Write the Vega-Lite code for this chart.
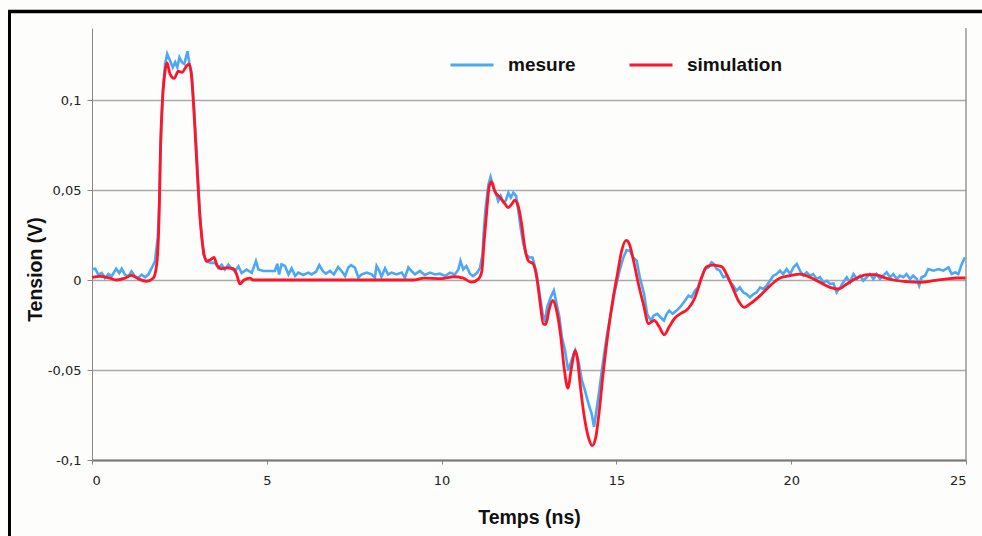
{
  "$schema": "https://vega.github.io/schema/vega-lite/v6.json",
  "autosize": {"type": "none"},
  "width": 874,
  "height": 432,
  "padding": {"left": 92, "top": 28, "right": 16, "bottom": 76},
  "background": "#fdfdfb",
  "config": {
    "view": {"stroke": null},
    "axis": {"labelFont": "DejaVu Sans", "labelFontSize": 13, "labelColor": "#222", "titleFont": "Liberation Sans", "titleFontSize": 19.5, "titleFontWeight": "bold", "titleColor": "#111", "domainColor": "#888", "tickColor": "#888"},
    "legend": {"labelFont": "Liberation Sans", "labelFontSize": 19, "labelFontWeight": "bold", "labelColor": "#111"}
  },
  "datasets": {
    "mesure": [
      {"t":0,"v":0.006},{"t":0.09,"v":0.0063},{"t":0.18,"v":0.003},{"t":0.28,"v":0.0039},{"t":0.37,"v":0.0011},{"t":0.47,"v":0.0033},{"t":0.56,"v":0.002},{"t":0.69,"v":0.0063},{"t":0.78,"v":0.0039},{"t":0.85,"v":0.0063},{"t":0.94,"v":0.003},{"t":1.04,"v":0.002},{"t":1.13,"v":0.0048},{"t":1.23,"v":0.002},{"t":1.32,"v":0.0011},{"t":1.42,"v":0.003},{"t":1.52,"v":0.0015},{"t":1.61,"v":0.003},{"t":1.71,"v":0.0067},{"t":1.8,"v":0.0104},{"t":1.88,"v":0.0234},{"t":1.93,"v":0.0457},{"t":1.96,"v":0.0736},{"t":2.02,"v":0.1033},{"t":2.09,"v":0.12},{"t":2.15,"v":0.1256},{"t":2.23,"v":0.1219},{"t":2.31,"v":0.1182},{"t":2.38,"v":0.121},{"t":2.44,"v":0.1182},{"t":2.5,"v":0.1237},{"t":2.57,"v":0.121},{"t":2.64,"v":0.12},{"t":2.73,"v":0.1271},{"t":2.78,"v":0.121},{"t":2.85,"v":0.1145},{"t":2.92,"v":0.0959},{"t":3.0,"v":0.068},{"t":3.09,"v":0.0346},{"t":3.19,"v":0.0141},{"t":3.28,"v":0.0104},{"t":3.39,"v":0.0095},{"t":3.52,"v":0.0095},{"t":3.61,"v":0.0067},{"t":3.71,"v":0.0085},{"t":3.8,"v":0.0058},{"t":3.9,"v":0.0085},{"t":3.99,"v":0.0063},{"t":4.09,"v":0.0048},{"t":4.19,"v":0.0076},{"t":4.28,"v":0.0039},{"t":4.42,"v":0.0058},{"t":4.57,"v":0.004},{"t":4.69,"v":0.0106},{"t":4.76,"v":0.0059},{"t":4.9,"v":0.005},{"t":5.1,"v":0.005},{"t":5.23,"v":0.005},{"t":5.3,"v":0.009},{"t":5.35,"v":0.0031},{"t":5.42,"v":0.0087},{"t":5.52,"v":0.0078},{"t":5.62,"v":0.0031},{"t":5.71,"v":0.0065},{"t":5.81,"v":0.0022},{"t":5.9,"v":0.0041},{"t":6.04,"v":0.0028},{"t":6.19,"v":0.0041},{"t":6.28,"v":0.0031},{"t":6.41,"v":0.0046},{"t":6.5,"v":0.0083},{"t":6.6,"v":0.005},{"t":6.69,"v":0.0035},{"t":6.81,"v":0.005},{"t":6.92,"v":0.0031},{"t":7.04,"v":0.0072},{"t":7.14,"v":0.005},{"t":7.24,"v":0.0022},{"t":7.33,"v":0.0069},{"t":7.41,"v":0.0083},{"t":7.52,"v":0.0069},{"t":7.62,"v":0.0013},{"t":7.71,"v":0.0031},{"t":7.86,"v":0.0041},{"t":8.0,"v":0.0031},{"t":8.09,"v":0.0013},{"t":8.14,"v":0.0078},{"t":8.22,"v":0.005},{"t":8.28,"v":0.0017},{"t":8.38,"v":0.0065},{"t":8.47,"v":0.0031},{"t":8.57,"v":0.0041},{"t":8.71,"v":0.0031},{"t":8.86,"v":0.0041},{"t":8.95,"v":0.0013},{"t":9.05,"v":0.0069},{"t":9.14,"v":0.005},{"t":9.24,"v":0.0031},{"t":9.38,"v":0.005},{"t":9.52,"v":0.0028},{"t":9.67,"v":0.0041},{"t":9.81,"v":0.0031},{"t":9.95,"v":0.0035},{"t":10.1,"v":0.0022},{"t":10.24,"v":0.0041},{"t":10.38,"v":0.0031},{"t":10.48,"v":0.0059},{"t":10.54,"v":0.0106},{"t":10.62,"v":0.0059},{"t":10.71,"v":0.0078},{"t":10.81,"v":0.0035},{"t":10.9,"v":0.0022},{"t":11.02,"v":0.0041},{"t":11.1,"v":0.0069},{"t":11.17,"v":0.014},{"t":11.21,"v":0.028},{"t":11.26,"v":0.0402},{"t":11.34,"v":0.0531},{"t":11.4,"v":0.0572},{"t":11.48,"v":0.0513},{"t":11.56,"v":0.0476},{"t":11.62,"v":0.0439},{"t":11.69,"v":0.0467},{"t":11.77,"v":0.043},{"t":11.84,"v":0.0443},{"t":11.91,"v":0.0485},{"t":11.98,"v":0.0458},{"t":12.05,"v":0.0485},{"t":12.13,"v":0.0467},{"t":12.19,"v":0.0393},{"t":12.26,"v":0.0292},{"t":12.34,"v":0.0199},{"t":12.41,"v":0.0144},{"t":12.51,"v":0.0125},{"t":12.6,"v":0.0125},{"t":12.7,"v":0.0052},{"t":12.79,"v":-0.0059},{"t":12.89,"v":-0.0188},{"t":12.96,"v":-0.0225},{"t":13.02,"v":-0.0151},{"t":13.12,"v":-0.0096},{"t":13.21,"v":-0.0059},{"t":13.29,"v":-0.0133},{"t":13.37,"v":-0.0207},{"t":13.44,"v":-0.0317},{"t":13.53,"v":-0.0391},{"t":13.62,"v":-0.0502},{"t":13.72,"v":-0.0446},{"t":13.82,"v":-0.0391},{"t":13.91,"v":-0.0446},{"t":14.01,"v":-0.0557},{"t":14.1,"v":-0.0613},{"t":14.2,"v":-0.0686},{"t":14.29,"v":-0.0742},{"t":14.36,"v":-0.0815},{"t":14.43,"v":-0.0723},{"t":14.51,"v":-0.0613},{"t":14.61,"v":-0.0465},{"t":14.72,"v":-0.0317},{"t":14.84,"v":-0.0188},{"t":14.96,"v":-0.0059},{"t":15.09,"v":0.0052},{"t":15.2,"v":0.0125},{"t":15.29,"v":0.0166},{"t":15.39,"v":0.0162},{"t":15.48,"v":0.0125},{"t":15.58,"v":0.0107},{"t":15.67,"v":0.0015},{"t":15.79,"v":-0.0077},{"t":15.88,"v":-0.0188},{"t":15.98,"v":-0.0225},{"t":16.07,"v":-0.0197},{"t":16.17,"v":-0.0188},{"t":16.26,"v":-0.0207},{"t":16.36,"v":-0.0225},{"t":16.44,"v":-0.0188},{"t":16.51,"v":-0.017},{"t":16.61,"v":-0.0188},{"t":16.72,"v":-0.017},{"t":16.82,"v":-0.0151},{"t":16.96,"v":-0.0115},{"t":17.06,"v":-0.0087},{"t":17.15,"v":-0.0096},{"t":17.25,"v":-0.0059},{"t":17.34,"v":-0.0041},{"t":17.44,"v":0.0015},{"t":17.53,"v":0.0061},{"t":17.63,"v":0.007},{"t":17.72,"v":0.0098},{"t":17.79,"v":0.0089},{"t":17.87,"v":0.0061},{"t":17.96,"v":0.0052},{"t":18.06,"v":0.0015},{"t":18.15,"v":0.0024},{"t":18.25,"v":-0.0013},{"t":18.34,"v":-0.0031},{"t":18.44,"v":-0.0059},{"t":18.53,"v":-0.0041},{"t":18.63,"v":-0.0069},{"t":18.72,"v":-0.0078},{"t":18.82,"v":-0.0096},{"t":18.92,"v":-0.0078},{"t":19.01,"v":-0.0069},{"t":19.11,"v":-0.0041},{"t":19.2,"v":-0.005},{"t":19.3,"v":-0.0031},{"t":19.39,"v":-0.0004},{"t":19.49,"v":0.0024},{"t":19.58,"v":0.0033},{"t":19.68,"v":0.0052},{"t":19.77,"v":0.0033},{"t":19.87,"v":0.0061},{"t":19.97,"v":0.0033},{"t":20.06,"v":0.007},{"t":20.16,"v":0.0089},{"t":20.25,"v":0.0052},{"t":20.35,"v":0.0024},{"t":20.44,"v":0.0043},{"t":20.54,"v":0.0024},{"t":20.63,"v":0.0033},{"t":20.73,"v":0.0006},{"t":20.82,"v":0.0015},{"t":20.92,"v":-0.0013},{"t":21.02,"v":-0.0004},{"t":21.11,"v":-0.0022},{"t":21.21,"v":-0.0019},{"t":21.3,"v":-0.0069},{"t":21.4,"v":-0.0041},{"t":21.49,"v":-0.0013},{"t":21.59,"v":0.0015},{"t":21.68,"v":-0.0013},{"t":21.78,"v":0.0033},{"t":21.88,"v":0.0006},{"t":21.97,"v":0.0024},{"t":22.06,"v":-0.0004},{"t":22.16,"v":0.0015},{"t":22.25,"v":0.0033},{"t":22.35,"v":0.0006},{"t":22.44,"v":0.0033},{"t":22.54,"v":0.0006},{"t":22.63,"v":0.0024},{"t":22.73,"v":0.0043},{"t":22.83,"v":0.0015},{"t":22.92,"v":0.0033},{"t":23.02,"v":0.0006},{"t":23.11,"v":0.0024},{"t":23.21,"v":0.0015},{"t":23.3,"v":0.0033},{"t":23.4,"v":0.0006},{"t":23.49,"v":0.0024},{"t":23.59,"v":0.0006},{"t":23.66,"v":-0.0031},{"t":23.73,"v":0.0015},{"t":23.83,"v":0.0024},{"t":23.92,"v":0.0061},{"t":24.07,"v":0.0052},{"t":24.21,"v":0.0061},{"t":24.35,"v":0.0052},{"t":24.5,"v":0.007},{"t":24.59,"v":0.0033},{"t":24.69,"v":0.0043},{"t":24.78,"v":0.0033},{"t":24.88,"v":0.0089},{"t":24.97,"v":0.0126}
    ],
    "simulation": [
      {"t":0,"v":0.0015},{"t":0.23,"v":0.002},{"t":0.51,"v":0.001},{"t":0.7,"v":0.0},{"t":0.94,"v":0.001},{"t":1.13,"v":0.0026},{"t":1.32,"v":0.0007},{"t":1.56,"v":-0.0007},{"t":1.75,"v":0.001},{"t":1.85,"v":0.0085},{"t":1.92,"v":0.036},{"t":1.96,"v":0.074},{"t":2.02,"v":0.101},{"t":2.09,"v":0.116},{"t":2.15,"v":0.1206},{"t":2.23,"v":0.1145},{"t":2.35,"v":0.112},{"t":2.47,"v":0.116},{"t":2.57,"v":0.1154},{"t":2.71,"v":0.119},{"t":2.78,"v":0.12},{"t":2.85,"v":0.1126},{"t":2.92,"v":0.092},{"t":3.0,"v":0.064},{"t":3.09,"v":0.0346},{"t":3.19,"v":0.016},{"t":3.28,"v":0.0104},{"t":3.39,"v":0.0113},{"t":3.49,"v":0.0126},{"t":3.57,"v":0.0085},{"t":3.68,"v":0.0063},{"t":3.85,"v":0.0067},{"t":4.04,"v":0.0063},{"t":4.14,"v":0.003},{"t":4.23,"v":-0.0022},{"t":4.35,"v":0},{"t":4.52,"v":0.001},{"t":4.61,"v":0},{"t":6,"v":0},{"t":8,"v":0},{"t":9.18,"v":0},{"t":9.5,"v":0.001},{"t":10.0,"v":0.0008},{"t":10.34,"v":0.0018},{"t":10.62,"v":0.001},{"t":10.86,"v":-0.0012},{"t":11.05,"v":0.0005},{"t":11.15,"v":0.0048},{"t":11.21,"v":0.02},{"t":11.29,"v":0.038},{"t":11.36,"v":0.0518},{"t":11.43,"v":0.0546},{"t":11.52,"v":0.0494},{"t":11.67,"v":0.0458},{"t":11.81,"v":0.0424},{"t":11.9,"v":0.0402},{"t":12.0,"v":0.042},{"t":12.09,"v":0.0443},{"t":12.19,"v":0.0411},{"t":12.29,"v":0.031},{"t":12.38,"v":0.018},{"t":12.48,"v":0.0107},{"t":12.62,"v":0.0089},{"t":12.72,"v":0.0015},{"t":12.81,"v":-0.0114},{"t":12.91,"v":-0.0244},{"t":12.98,"v":-0.0247},{"t":13.08,"v":-0.016},{"t":13.18,"v":-0.0114},{"t":13.29,"v":-0.017},{"t":13.41,"v":-0.0317},{"t":13.5,"v":-0.048},{"t":13.61,"v":-0.06},{"t":13.72,"v":-0.048},{"t":13.82,"v":-0.0391},{"t":13.88,"v":-0.0432},{"t":13.96,"v":-0.0576},{"t":14.07,"v":-0.0745},{"t":14.2,"v":-0.0874},{"t":14.31,"v":-0.092},{"t":14.41,"v":-0.0874},{"t":14.5,"v":-0.0745},{"t":14.62,"v":-0.052},{"t":14.77,"v":-0.028},{"t":14.91,"v":-0.0096},{"t":15.03,"v":0.0033},{"t":15.15,"v":0.0162},{"t":15.28,"v":0.022},{"t":15.37,"v":0.02},{"t":15.49,"v":0.0107},{"t":15.63,"v":-0.0022},{"t":15.77,"v":-0.0133},{"t":15.92,"v":-0.0242},{"t":16.08,"v":-0.0224},{"t":16.22,"v":-0.0258},{"t":16.37,"v":-0.0304},{"t":16.51,"v":-0.026},{"t":16.68,"v":-0.021},{"t":16.85,"v":-0.0185},{"t":17.01,"v":-0.0167},{"t":17.25,"v":-0.0096},{"t":17.44,"v":0.0015},{"t":17.58,"v":0.0074},{"t":17.77,"v":0.0083},{"t":18.01,"v":0.0074},{"t":18.15,"v":0.0033},{"t":18.3,"v":-0.0031},{"t":18.49,"v":-0.0115},{"t":18.65,"v":-0.0152},{"t":18.82,"v":-0.0133},{"t":19.11,"v":-0.0087},{"t":19.4,"v":-0.0031},{"t":19.68,"v":0.0011},{"t":19.97,"v":0.0024},{"t":20.25,"v":0.0033},{"t":20.54,"v":0.0015},{"t":20.82,"v":-0.0013},{"t":21.11,"v":-0.0041},{"t":21.35,"v":-0.005},{"t":21.59,"v":-0.0022},{"t":21.88,"v":0.0011},{"t":22.17,"v":0.003},{"t":22.4,"v":0.003},{"t":22.64,"v":0.0015},{"t":22.93,"v":0},{"t":23.31,"v":-0.0009},{"t":23.69,"v":-0.0013},{"t":24.07,"v":-0.0004},{"t":24.45,"v":0.0006},{"t":24.73,"v":0.0011},{"t":25,"v":0.0011}
    ]
  },
  "layer": [
    {
      "data": {"name": "mesure"},
      "mark": {"type": "line", "strokeWidth": 2.6, "interpolate": "linear"},
      "encoding": {
        "x": {"field": "t", "type": "quantitative", "scale": {"domain": [0, 25], "nice": false},
          "axis": {"title": "Temps (ns)", "values": [0, 5, 10, 15, 20, 25], "grid": false, "tickSize": 4, "labelPadding": 10, "domainWidth": 2, "domainColor": "#777", "titleY": 57, "titleBaseline": "middle"}},
        "y": {"field": "v", "type": "quantitative", "scale": {"domain": [-0.1, 0.14], "nice": false, "zero": false},
          "axis": {"title": "Tension (V)", "values": [-0.1, -0.05, 0, 0.05, 0.1], "labelExpr": "replace(datum.value + '', '.', ',')", "grid": true, "gridColor": "#aaa", "gridWidth": 1.5, "tickSize": 5, "labelPadding": 6, "titleX": -57, "titleY": 241, "titleAlign": "center", "titleBaseline": "middle"}},
        "color": {"datum": "mesure", "type": "nominal", "scale": {"domain": ["mesure", "simulation"], "range": ["#4aa8f5", "#ff1428"]},
          "legend": {"title": null, "orient": "none", "legendX": 357, "legendY": 14, "direction": "horizontal", "symbolType": "stroke", "symbolSize": 1849, "symbolStrokeWidth": 3, "labelOffset": 13, "columnPadding": 47}}
      }
    },
    {
      "data": {"name": "simulation"},
      "mark": {"type": "line", "strokeWidth": 2.8, "interpolate": "monotone"},
      "encoding": {
        "x": {"field": "t", "type": "quantitative"},
        "y": {"field": "v", "type": "quantitative"},
        "color": {"datum": "simulation", "type": "nominal"}
      }
    },
    {
      "data": {"values": [{}]},
      "mark": {"type": "rule", "color": "#999", "strokeWidth": 1.5},
      "encoding": {"x": {"datum": 25}}
    },
    {
      "data": {"values": [{}]},
      "mark": {"type": "rule", "color": "#000", "strokeWidth": 3.5, "clip": false},
      "encoding": {"x": {"datum": -2.4}, "x2": {"datum": 25.5}, "y": {"datum": 0.1492}}
    },
    {
      "data": {"values": [{}]},
      "mark": {"type": "rule", "color": "#000", "strokeWidth": 3, "clip": false},
      "encoding": {"x": {"datum": -2.36}, "y": {"datum": 0.1492}, "y2": {"datum": -0.15}}
    }
  ]
}
